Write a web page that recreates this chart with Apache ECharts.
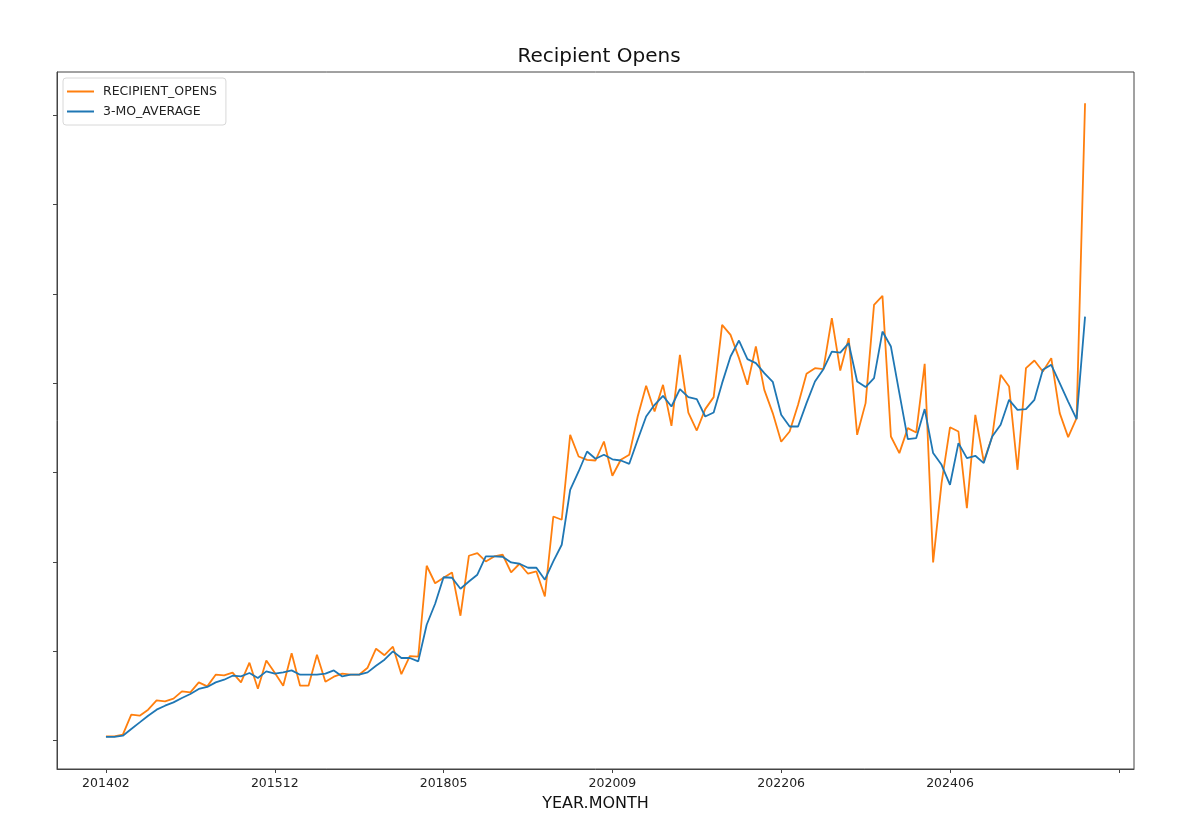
<!DOCTYPE html>
<html>
<head>
<meta charset="utf-8">
<script src="https://cdn.jsdelivr.net/npm/echarts@6/dist/echarts.min.js"></script>
<style>
  html, body { margin: 0; padding: 0; background: #fff; }
  #chart { width: 1198px; height: 838px; }
</style>
</head>
<body>
<div id="chart"></div>
<script>
// Tick labels on the x axis (period index -> YEAR.MONTH label)
const tickIndex = [0, 20, 40, 60, 80, 100, 120];
const tickLabels = ['201402', '201512', '201805', '202009', '202206', '202406', ''];

// Y axis ticks (unlabelled in the reference)
const yTicks = [0, 10000, 20000, 30000, 40000, 50000, 60000, 70000];

// RECIPIENT_OPENS, one value per period (117 periods)
const recipientOpens = [
  481, 481, 671, 2908, 2797, 3468, 4508, 4396, 4698, 5515,
  5403, 6521, 6074, 7383, 7305, 7606, 6521, 8725, 5817, 8982,
  7606, 6152, 9788, 6152, 6152, 9620, 6600, 7159, 7495, 7383,
  7383, 8166, 10291, 9564, 10515, 7439, 9452, 9396, 19576, 17618,
  18233, 18826, 13983, 20694, 20996, 20057, 20616, 20806, 18826, 19799,
  18681, 18938, 16141, 25090, 24721, 34229, 31802, 31433, 31354, 33480,
  29643, 31433, 31992, 36276, 39710, 36835, 39822, 35236, 43178, 36724,
  34710, 37104, 38446, 46534, 45415, 42809, 39822, 44107, 39263, 36656,
  33446, 34598, 37585, 41053, 41690, 41578, 47283, 41422, 45046, 34229,
  37775, 48771, 49778, 34039, 32182, 34979, 34487, 42171, 19945, 28826,
  35068, 34598, 26030, 36466, 31243, 34039, 40941, 39632, 30314, 41690,
  42540, 41310, 42809, 36656, 33972, 36097, 71333
];

// 3-MO_AVERAGE, one value per period
const threeMoAverage = [
  414, 414, 559, 1309, 2047, 2797, 3468, 3915, 4284, 4776,
  5224, 5783, 6007, 6521, 6823, 7271, 7193, 7573, 7014, 7752,
  7495, 7640, 7864, 7383, 7383, 7383, 7495, 7864, 7193, 7383,
  7383, 7640, 8390, 9061, 9989, 9251, 9251, 8871, 12976, 15325,
  18289, 18233, 17003, 17819, 18569, 20616, 20616, 20582, 19945, 19799,
  19352, 19352, 18009, 20057, 21925, 28077, 30124, 32361, 31545, 31992,
  31489, 31354, 30985, 33670, 36276, 37585, 38592, 37395, 39341, 38446,
  38223, 36276, 36724, 40012, 42988, 44778, 42697, 42250, 41131, 40158,
  36466, 35158, 35158, 37775, 40191, 41578, 43547, 43436, 44487, 40191,
  39565, 40571, 45784, 44107, 38894, 33748, 33860, 37104, 32182, 30873,
  28636, 33301, 31623, 31880, 31063, 34039, 35348, 38144, 37026, 37104,
  38144, 41500, 42059, 40012, 37954, 35985, 47462
];

const chart = echarts.init(document.getElementById('chart'));
const font = 'DejaVu Sans';

chart.setOption({
  animation: false,
  backgroundColor: '#ffffff',
  title: {
    text: 'Recipient Opens',
    left: 'center',
    top: 47,
    padding: 0,
    textStyle: { fontFamily: font, fontSize: 20, fontWeight: 'normal', color: '#111' }
  },
  legend: {
    orient: 'vertical',
    left: 63,
    top: 78,
    padding: [7, 9, 7, 4],
    itemGap: 7,
    itemWidth: 27,
    itemHeight: 2,
    icon: 'rect',
    borderColor: '#d8d8d8',
    borderWidth: 1,
    borderRadius: 3,
    textStyle: { fontFamily: font, fontSize: 12.5, color: '#222', padding: [0, 0, 0, 4] },
    data: ['RECIPIENT_OPENS', '3-MO_AVERAGE']
  },
  grid: {
    left: 57,
    top: 72,
    right: 64,
    bottom: 69,
    show: true,
    borderColor: '#444',
    borderWidth: 1,
    containLabel: false
  },
  xAxis: {
    type: 'value',
    min: -5.8,
    max: 121.8,
    name: 'YEAR.MONTH',
    nameLocation: 'middle',
    nameGap: 27,
    nameTextStyle: { fontFamily: font, fontSize: 16, color: '#111' },
    splitLine: { show: false },
    axisLine: { show: true, onZero: false, lineStyle: { color: '#444', width: 1 } },
    axisTick: {
      show: true,
      length: 4,
      lineStyle: { color: '#444' },
      customValues: tickIndex
    },
    axisLabel: {
      fontFamily: font,
      fontSize: 12.5,
      color: '#222',
      margin: 8,
      customValues: tickIndex,
      formatter: function (v) {
        const k = tickIndex.indexOf(Math.round(v));
        return k >= 0 ? tickLabels[k] : '';
      }
    }
  },
  yAxis: {
    type: 'value',
    min: -3170,
    max: 74830,
    splitLine: { show: false },
    axisLine: { show: true, onZero: false, lineStyle: { color: '#444', width: 1 } },
    axisTick: {
      show: true,
      length: 4,
      lineStyle: { color: '#444' },
      customValues: yTicks
    },
    axisLabel: { show: false }
  },
  series: [
    {
      name: 'RECIPIENT_OPENS',
      type: 'line',
      data: recipientOpens.map((v, i) => [i, v]),
      showSymbol: false,
      symbol: 'none',
      color: '#ff7f0e',
      lineStyle: { color: '#ff7f0e', width: 1.8 },
      z: 2
    },
    {
      name: '3-MO_AVERAGE',
      type: 'line',
      data: threeMoAverage.map((v, i) => [i, v]),
      showSymbol: false,
      symbol: 'none',
      color: '#1f77b4',
      lineStyle: { color: '#1f77b4', width: 1.8 },
      z: 3
    }
  ]
});
</script>
</body>
</html>
